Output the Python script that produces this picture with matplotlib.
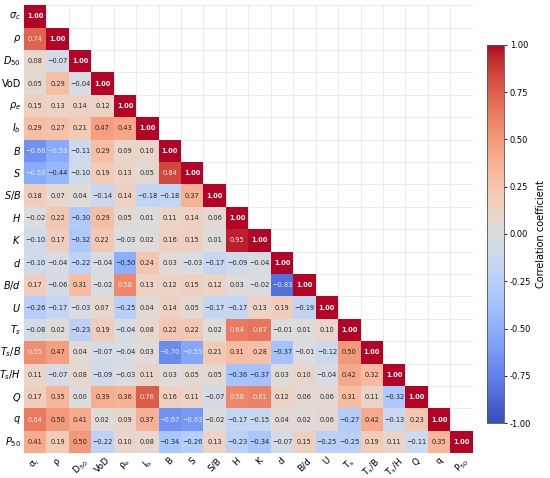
import numpy as np
import matplotlib
matplotlib.use('Agg')
import matplotlib.pyplot as plt
import seaborn as sns

# variable names (y axis uses italic math, x axis upright)
ylabels = [r'$\sigma_c$', r'$\rho$', r'$D_{50}$', 'VoD', r'$\rho_e$', r'$I_b$', r'$B$', r'$S$',
           r'$S/B$', r'$H$', r'$K$', r'$d$', r'$B/d$', r'$U$', r'$T_s$', r'$T_s/B$', r'$T_s/H$',
           r'$Q$', r'$q$', r'$P_{50}$']
xlabels = [r'$\mathrm{\sigma_c}$', r'$\mathrm{\rho}$', r'$\mathrm{D_{50}}$', 'VoD', r'$\mathrm{\rho_e}$',
           r'$\mathrm{I_b}$', 'B', 'S', 'S/B', 'H', 'K', 'd', 'B/d', 'U', r'$\mathrm{T_s}$',
           r'$\mathrm{T_s/B}$', r'$\mathrm{T_s/H}$', 'Q', 'q', r'$\mathrm{P_{50}}$']

# lower triangle of the correlation matrix, row by row (diagonal excluded)
lower_rows = [
    [],
    [0.74],
    [0.08, -0.07],
    [0.05, 0.29, -0.04],
    [0.15, 0.13, 0.14, 0.12],
    [0.29, 0.27, 0.21, 0.47, 0.43],
    [-0.66, -0.53, -0.11, 0.29, 0.09, 0.10],
    [-0.53, -0.44, -0.10, 0.19, 0.13, 0.05, 0.84],
    [0.18, 0.07, 0.04, -0.14, 0.14, -0.18, -0.18, 0.37],
    [-0.02, 0.22, -0.30, 0.29, 0.05, 0.01, 0.11, 0.14, 0.06],
    [-0.10, 0.17, -0.32, 0.22, -0.03, 0.02, 0.16, 0.15, 0.01, 0.95],
    [-0.10, -0.04, -0.22, -0.04, -0.50, 0.24, 0.03, -0.03, -0.17, -0.09, -0.04],
    [0.17, -0.06, 0.31, -0.02, 0.58, 0.13, 0.12, 0.15, 0.12, 0.03, -0.02, -0.83],
    [-0.26, -0.17, -0.03, 0.07, -0.25, 0.04, 0.14, 0.05, -0.17, -0.17, 0.13, 0.19, -0.19],
    [-0.08, 0.02, -0.23, 0.19, -0.04, 0.08, 0.22, 0.22, 0.02, 0.64, 0.67, -0.01, 0.01, 0.10],
    [0.55, 0.47, 0.04, -0.07, -0.04, 0.03, -0.70, -0.55, 0.21, 0.31, 0.28, -0.37, -0.01, -0.12, 0.50],
    [0.11, -0.07, 0.08, -0.09, -0.03, 0.11, 0.03, 0.05, 0.05, -0.36, -0.37, 0.03, 0.10, -0.04, 0.42, 0.32],
    [0.17, 0.35, 0.00, 0.39, 0.36, 0.76, 0.16, 0.11, -0.07, 0.58, 0.61, 0.12, 0.06, 0.06, 0.31, 0.11, -0.32],
    [0.64, 0.50, 0.41, 0.02, 0.09, 0.37, -0.67, -0.63, -0.02, -0.17, -0.15, 0.04, 0.02, 0.06, -0.27, 0.42,
     -0.13, 0.23],
    [0.41, 0.19, 0.50, -0.22, 0.10, 0.08, -0.34, -0.26, 0.13, -0.23, -0.34, -0.07, 0.15, -0.25, -0.25, 0.19,
     0.11, -0.11, 0.35],
]

n = len(ylabels)
corr = np.eye(n)
for i, row in enumerate(lower_rows):
    for j, v in enumerate(row):
        corr[i, j] = v
        corr[j, i] = v

mask = np.triu(np.ones_like(corr, dtype=bool), k=1)
labels = np.array([[f'{v:.2f}'.replace('-', '\u2212') for v in r] for r in corr])

fig = plt.figure(figsize=(5.5, 4.78), dpi=100)
ax = fig.add_axes([0.0436, 0.052, 0.816, 0.937])
cax = fig.add_axes([0.886, 0.115, 0.031, 0.791])

sns.heatmap(corr, mask=mask, cmap='coolwarm', vmin=-1, vmax=1, annot=labels, fmt='',
            annot_kws={'fontsize': 4.8}, square=False, ax=ax, cbar_ax=cax,
            xticklabels=xlabels, yticklabels=ylabels)

# text colour: white on strong colours
k = 0
for i in range(n):
    for j in range(n):
        if mask[i, j]:
            continue
        t = ax.texts[k]
        k += 1
        v = corr[i, j]
        if i == j:
            t.set_color('white')
            t.set_fontweight('bold')
        elif abs(v) > 0.52:
            t.set_color('#f0f0f0')
        else:
            t.set_color('#262626')

# light grid over the whole matrix
ax.set_xticks(np.arange(n + 1), minor=True)
ax.set_yticks(np.arange(n + 1), minor=True)
ax.grid(which='minor', color='#e8e8e8', linewidth=0.6, zorder=0)
ax.set_axisbelow(True)
ax.tick_params(which='both', length=0)
ax.tick_params(axis='x', labelsize=6.5, pad=2)
ax.tick_params(axis='y', labelsize=7, pad=2)
plt.setp(ax.get_xticklabels(), rotation=45, ha='center')
plt.setp(ax.get_yticklabels(), rotation=0)

cb = ax.collections[0].colorbar
cb.set_ticks(np.arange(-1, 1.01, 0.25))
cb.ax.yaxis.set_major_formatter(matplotlib.ticker.FormatStrFormatter('%.2f'))
cb.ax.tick_params(labelsize=6, length=2.5, width=0.6, pad=1.5)
cb.set_label('Correlation coefficient', fontsize=7, labelpad=3)
cb.outline.set_edgecolor('#555555')
cb.outline.set_linewidth(0.6)

fig.savefig('out.png', dpi=100)
